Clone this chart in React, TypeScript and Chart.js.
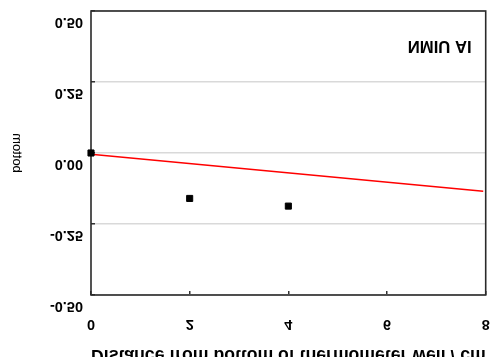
import React, { useEffect, useRef } from 'react';
import { Chart, registerables } from 'chart.js';

Chart.register(...registerables);

// ---- data ----
const pointX = [0, 2, 4];
const pointY = [0.0, -0.16, -0.187];
const fitX = [0, 7.95];
const fitY = [-0.004, -0.135];
const xTickValues = [0, 2, 4, 6, 8];
const xTickLabels = ['0', '2', '4', '6', '8'];
const yTickValues = [-0.5, -0.25, 0, 0.25, 0.5];
const yTickLabels = ['-0.50', '-0.25', '0.00', '0.25', '0.50'];
const xTitle = 'Distance from bottom of thermometer well / cm';
const yTitle = 'bottom';
const panelLabel = 'NMIU AI';

const FAMILY = "'Liberation Sans', Arial, sans-serif";

// text in the reference is drawn mirrored top-to-bottom; reproduce that
function patchFlippedText(ctx: any) {
  if (ctx.__flipPatched) return;
  const orig = ctx.fillText.bind(ctx);
  ctx.fillText = function (text: string, x: number, y: number, maxWidth?: number) {
    const m = /(\d+(?:\.\d+)?)px/.exec(ctx.font);
    const fs = m ? parseFloat(m[1]) : 12;
    const b = ctx.textBaseline;
    let cy = y;
    if (b === 'top' || b === 'hanging') cy = y + fs * 0.5;
    else if (b === 'bottom' || b === 'ideographic') cy = y - fs * 0.5;
    else if (b === 'alphabetic') cy = y - fs * 0.35;
    ctx.save();
    ctx.translate(0, 2 * cy);
    ctx.scale(1, -1);
    if (maxWidth === undefined) orig(text, x, y);
    else orig(text, x, y, maxWidth);
    ctx.restore();
  };
  ctx.__flipPatched = true;
}

const framePlugin = {
  id: 'frame',
  beforeDatasetsDraw(chart: any) {
    const { ctx, chartArea: a } = chart;
    ctx.save();
    ctx.strokeStyle = '#2a2a2a';
    ctx.lineWidth = 1.6;
    ctx.strokeRect(a.left, a.top, a.right - a.left, a.bottom - a.top);
    ctx.restore();
  },
};

const labelPlugin = {
  id: 'panelLabel',
  afterDraw(chart: any) {
    const { ctx, chartArea: a } = chart;
    ctx.save();
    ctx.font = `bold 16.7px ${FAMILY}`;
    ctx.fillStyle = '#000';
    ctx.textAlign = 'right';
    ctx.textBaseline = 'middle';
    ctx.fillText(panelLabel, a.right - 14, a.top + 35);
    ctx.restore();
  },
};

export default function App() {
  const ref = useRef<HTMLCanvasElement | null>(null);

  useEffect(() => {
    const canvas = ref.current;
    if (!canvas) return;
    const ctx = canvas.getContext('2d');
    patchFlippedText(ctx);

    const chart = new Chart(ctx as any, {
      type: 'scatter',
      data: {
        datasets: [
          {
            label: 'measured',
            data: pointX.map((x, i) => ({ x, y: pointY[i] })),
            pointStyle: 'rect',
            pointRadius: 4.3,
            backgroundColor: '#000',
            borderColor: '#000',
            borderWidth: 1,
            showLine: false,
            clip: false as any,
          },
          {
            label: 'fit',
            data: fitX.map((x, i) => ({ x, y: fitY[i] })),
            showLine: true,
            borderColor: '#ff0000',
            borderWidth: 1.5,
            pointRadius: 0,
            fill: false,
            clip: false as any,
          },
        ],
      },
      options: {
        responsive: false,
        animation: false,
        devicePixelRatio: 1,
        layout: { padding: { left: 0, right: 5, top: 11, bottom: 0 } },
        plugins: { legend: { display: false }, tooltip: { enabled: false } },
        scales: {
          x: {
            type: 'linear',
            position: 'bottom',
            min: 0,
            max: 8,
            afterBuildTicks: (s: any) => {
              s.ticks = xTickValues.map((v) => ({ value: v }));
            },
            afterFit: (s: any) => {
              s.height = 62;
              s.paddingLeft = 0;
              s.paddingRight = 0;
            },
            ticks: {
              callback: (_v: any, i: number) => xTickLabels[i],
              color: '#000',
              font: { family: FAMILY, size: 14.5, weight: 'bold' },
              padding: 24,
              maxRotation: 0,
              autoSkip: false,
            },
            grid: {
              drawOnChartArea: false,
              drawTicks: true,
              tickLength: -4,
              color: '#333',
              lineWidth: 1.5,
            },
            border: { display: false },
            title: {
              display: true,
              text: xTitle,
              color: '#000',
              font: { family: FAMILY, size: 17.7, weight: 'bold' },
              padding: { top: 0, bottom: -9 },
            },
          },
          y: {
            type: 'linear',
            position: 'left',
            min: -0.5,
            max: 0.5,
            afterBuildTicks: (s: any) => {
              s.ticks = yTickValues.map((v) => ({ value: v }));
            },
            afterFit: (s: any) => {
              s.width = 91;
              s.paddingTop = 0;
              s.paddingBottom = 0;
            },
            ticks: {
              callback: (_v: any, i: number) => yTickLabels[i],
              color: '#000',
              font: { family: FAMILY, size: 14.5, weight: 'bold' },
              padding: 12,
              labelOffset: 11,
              autoSkip: false,
            },
            grid: {
              color: '#d9d9d9',
              lineWidth: 1.5,
              drawTicks: true,
              tickLength: -4,
              tickColor: '#333',
            },
            border: { display: false },
            title: {
              display: true,
              text: yTitle,
              color: '#000',
              font: { family: FAMILY, size: 13, weight: 'normal' },
              padding: { top: 9.2, bottom: 0 },
            },
          },
        },
      },
      plugins: [framePlugin, labelPlugin],
    });

    return () => chart.destroy();
  }, []);

  return (
    <div style={{ position: 'absolute', left: 0, top: 0, width: 491, height: 357, background: '#fff' }}>
      <canvas ref={ref} width={491} height={357} style={{ display: 'block' }} />
    </div>
  );
}
